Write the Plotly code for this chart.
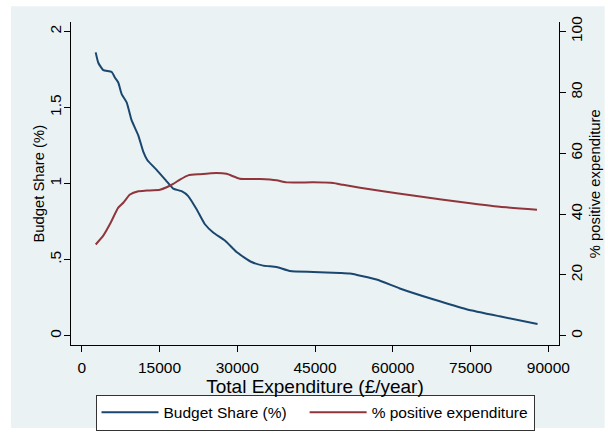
import plotly.graph_objects as go

# Total expenditure (thousand £/year) at which each curve was read
exp_blue_k = [2.70, 3.20, 4.16, 5.78, 6.42, 7.05, 7.71, 8.67, 9.64, 10.91, 11.87, 12.64,
              14.45, 16.38, 17.65, 19.27, 20.54, 22.16, 23.76, 25.36, 27.62, 29.87,
              32.76, 35.0, 37.58, 40.14, 44.63, 49.78, 51.7, 56.85, 61.34, 67.76,
              74.2, 80.6, 87.9]
budget_share = [1.862, 1.794, 1.746, 1.733, 1.696, 1.664, 1.588, 1.534, 1.415, 1.317,
                1.210, 1.155, 1.090, 1.015, 0.967, 0.950, 0.918, 0.831, 0.733, 0.679,
                0.626, 0.550, 0.485, 0.461, 0.452, 0.426, 0.420, 0.413, 0.409, 0.370,
                0.311, 0.240, 0.175, 0.128, 0.078]

exp_red_k = [2.70, 4.16, 5.45, 7.05, 8.02, 9.31, 10.91, 12.53, 15.09, 16.38, 17.65,
             18.94, 20.54, 22.8, 26.02, 27.94, 30.51, 34.36, 37.58, 39.5, 44.63,
             48.5, 50.4, 56.85, 64.56, 74.2, 80.6, 87.8]
pct_positive = [30.0, 32.9, 36.7, 42.1, 43.7, 46.4, 47.5, 47.7, 48.0, 48.8, 49.9,
                51.3, 52.7, 53.1, 53.5, 53.2, 51.6, 51.5, 51.1, 50.4, 50.4,
                50.2, 49.6, 47.8, 45.9, 43.7, 42.4, 41.4]

x_ticks = [0, 15000, 30000, 45000, 60000, 75000, 90000]
x_tick_text = ["0", "15000", "30000", "45000", "60000", "75000", "90000"]
y_ticks = [0, 0.5, 1, 1.5, 2]
y_tick_text = ["0", ".5", "1", "1.5", "2"]
y2_ticks = [0, 20, 40, 60, 80, 100]

BLUE = "#1a476f"
RED = "#90353b"
BG = "#eaf2f3"
FONT = dict(family="Liberation Sans, Arial, sans-serif", size=15.5, color="#000000")
NB = "\u00a0"

fig = go.Figure()
fig.add_trace(go.Scatter(x=[v * 1000 for v in exp_blue_k], y=budget_share, mode="lines",
                         name="Budget Share (%)" + NB * 3,
                         line=dict(color=BLUE, width=2, shape="spline", smoothing=0.5)))
fig.add_trace(go.Scatter(x=[v * 1000 for v in exp_red_k], y=pct_positive, mode="lines",
                         name="% positive expenditure",
                         line=dict(color=RED, width=2, shape="spline", smoothing=0.5),
                         yaxis="y2"))

fig.update_layout(
    width=608, height=443,
    margin=dict(l=71, r=49, t=22, b=94),
    paper_bgcolor="white",
    plot_bgcolor="white",
    font=FONT,
    showlegend=True,
    legend=dict(orientation="h", x=0.5, xanchor="center", y=-0.154, yanchor="top",
                bgcolor="white", bordercolor="#333333", borderwidth=1,
                font=FONT, itemwidth=57),
    xaxis=dict(range=[-2062, 92042], tickvals=x_ticks, ticktext=x_tick_text,
               ticks="outside", ticklen=6, automargin=False, ticklabelstandoff=2,
               tickcolor="black", showline=True, linecolor="black", linewidth=1,
               showgrid=False, zeroline=False,
               title=dict(text="Total Expenditure (£/year)", standoff=0)),
    yaxis=dict(range=[-0.0604, 2.0617], tickvals=y_ticks, ticktext=y_tick_text,
               tickangle=-90, ticks="outside", ticklen=6, tickcolor="black",
               automargin=False, ticklabelstandoff=-3,
               showline=True, linecolor="black", linewidth=1,
               showgrid=True, gridcolor=BG, gridwidth=1.5, zeroline=False),
    yaxis2=dict(range=[-3.02, 103.08], tickvals=y2_ticks, overlaying="y", side="right",
                tickangle=-90, ticks="outside", ticklen=6, tickcolor="black",
                automargin=False, ticklabelstandoff=-3,
                showline=True, linecolor="black", linewidth=1,
                showgrid=False, zeroline=False),
    annotations=[
        dict(text="Budget Share (%)", xref="paper", yref="paper",
             x=-0.0675, y=0.5, xanchor="center", yanchor="middle",
             textangle=-90, showarrow=False, font=dict(size=14.8)),
        dict(text="% positive expenditure", xref="paper", yref="paper",
             x=(595 - 71) / 488.3, y=0.5, xanchor="center", yanchor="middle",
             textangle=-90, showarrow=False, font=dict(size=14.8)),
    ],
    shapes=[dict(type="rect", xref="paper", yref="paper", x0=-0.1229, x1=1.0936,
                 y0=-0.2569, y1=1.049, fillcolor=BG, line=dict(width=0), layer="below")],
)

fig.write_html("out.html", config={"displayModeBar": False},
               post_script="document.body.style.margin='0';")
